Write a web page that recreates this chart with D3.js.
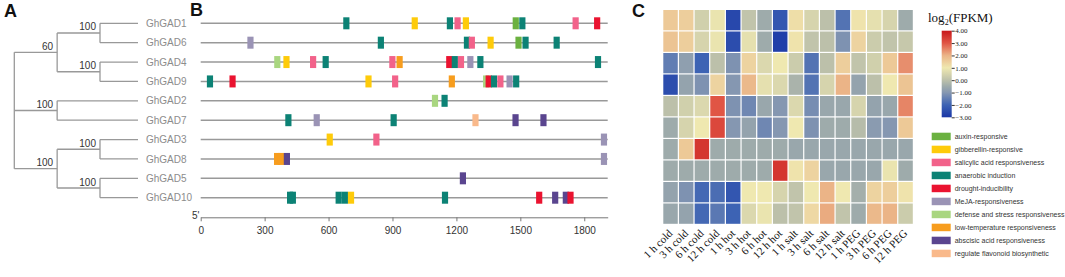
<!DOCTYPE html>
<html lang="en">
<head>
<meta charset="UTF-8">
<title>GhGAD phylogeny, cis-elements and expression</title>
<style>
  body { margin: 0; background: #fff; }
  svg { display: block; }
  .sans { font-family: Arial, "Liberation Sans", sans-serif; }
  .serif { font-family: "Times New Roman", "Liberation Serif", serif; }
</style>
</head>
<body>
<div id="chart"></div>
<script src="https://cdn.jsdelivr.net/npm/d3@7"></script>
<script>
const W = 1065, H = 277;

// ---- data ----
const genes = ["GhGAD1", "GhGAD6", "GhGAD4", "GhGAD9", "GhGAD2", "GhGAD7", "GhGAD3", "GhGAD8", "GhGAD5", "GhGAD10"];

// phylogeny with bootstrap values
const tree = {children: [
  {label: "60", children: [
    {label: "100", children: [{name: "GhGAD1"}, {name: "GhGAD6"}]},
    {label: "100", children: [{name: "GhGAD4"}, {name: "GhGAD9"}]}
  ]},
  {label: "100", children: [{name: "GhGAD2"}, {name: "GhGAD7"}]},
  {label: "100", children: [
    {label: "100", children: [{name: "GhGAD3"}, {name: "GhGAD8"}]},
    {label: "100", children: [{name: "GhGAD5"}, {name: "GhGAD10"}]}
  ]}
]};

const motifTypes = ["auxin-responsive", "gibberellin-responsive", "salicylic acid responsiveness",
  "anaerobic induction", "drought-inducibility", "MeJA-responsiveness",
  "defense and stress responsiveness", "low-temperature responsiveness",
  "abscisic acid responsiveness", "regulate flavonoid biosynthetic"];
const motifColors = ["#6bb140", "#fecb0a", "#f2628a", "#0c8275", "#ea1330", "#9a93b5",
  "#a9d680", "#f79d1e", "#5a458f", "#f9b98b"];

// promoter elements: [gene, type index, start position]
const motifs = [
  ["GhGAD1", 3, 669], ["GhGAD1", 1, 990], ["GhGAD1", 3, 1155], ["GhGAD1", 2, 1191], ["GhGAD1", 1, 1230],
  ["GhGAD1", 0, 1464], ["GhGAD1", 3, 1495], ["GhGAD1", 2, 1745], ["GhGAD1", 4, 1846],
  ["GhGAD6", 5, 219], ["GhGAD6", 3, 831], ["GhGAD6", 3, 1235], ["GhGAD6", 2, 1258], ["GhGAD6", 1, 1346],
  ["GhGAD6", 0, 1477], ["GhGAD6", 3, 1510], ["GhGAD6", 3, 1656],
  ["GhGAD4", 6, 345], ["GhGAD4", 1, 388], ["GhGAD4", 2, 513], ["GhGAD4", 3, 572], ["GhGAD4", 2, 885],
  ["GhGAD4", 7, 919], ["GhGAD4", 4, 1152], ["GhGAD4", 3, 1178], ["GhGAD4", 2, 1207], ["GhGAD4", 5, 1251],
  ["GhGAD4", 3, 1298], ["GhGAD4", 3, 1850],
  ["GhGAD9", 3, 29], ["GhGAD9", 4, 135], ["GhGAD9", 1, 773], ["GhGAD9", 2, 898], ["GhGAD9", 7, 1164],
  ["GhGAD9", 6, 1325], ["GhGAD9", 4, 1337], ["GhGAD9", 3, 1362], ["GhGAD9", 2, 1392], ["GhGAD9", 5, 1435],
  ["GhGAD9", 3, 1466],
  ["GhGAD2", 6, 1085], ["GhGAD2", 3, 1130],
  ["GhGAD7", 3, 397], ["GhGAD7", 5, 530], ["GhGAD7", 3, 891], ["GhGAD7", 9, 1275], ["GhGAD7", 8, 1463],
  ["GhGAD7", 8, 1594],
  ["GhGAD3", 1, 591], ["GhGAD3", 2, 810], ["GhGAD3", 5, 1878],
  ["GhGAD8", 7, 344], ["GhGAD8", 7, 362], ["GhGAD8", 8, 390], ["GhGAD8", 5, 1878],
  ["GhGAD5", 8, 1216],
  ["GhGAD10", 3, 405], ["GhGAD10", 3, 418], ["GhGAD10", 3, 633], ["GhGAD10", 3, 662], ["GhGAD10", 1, 691],
  ["GhGAD10", 3, 1132], ["GhGAD10", 4, 1574], ["GhGAD10", 8, 1649], ["GhGAD10", 8, 1699], ["GhGAD10", 4, 1721]
];
const promoterLength = 1910;
const positionTicks = [0, 300, 600, 900, 1200, 1500, 1800];

const conditions = ["1 h cold", "3 h cold", "6 h cold", "12 h cold", "1 h hot", "3 h hot", "6 h hot", "12 h hot",
  "1 h salt", "3 h salt", "6 h salt", "12 h salt", "1 h PEG", "3 h PEG", "6 h PEG", "12 h PEG"];
// log2(FPKM), one row per gene in the order of `genes`
const expression = [
  [1.6, 1.5, 0.4, 0.9, -2.6, 0.1, -0.5, -2.3, 1.2, 0.5, 0.0, -1.7, 1.1, 0.8, 0.5, -0.5],
  [1.7, 1.5, 0.5, 0.9, -2.5, 0.8, -0.5, -2.8, 1.1, 0.1, 0.0, -1.1, 1.4, 0.3, 0.1, 0.2],
  [-1.5, -0.8, -2.0, 0.0, -1.1, 1.4, 0.6, 1.0, 0.3, -1.7, 0.0, 1.5, 0.1, 0.4, 1.6, 2.4],
  [-2.5, -0.7, -1.1, 1.4, -1.0, 1.9, 0.8, 0.6, -0.3, -1.7, 0.5, 2.0, -0.7, 0.0, 1.0, 1.7],
  [0.0, 0.4, 0.6, 3.0, -1.1, -1.3, -0.6, -1.0, 0.6, -1.2, -0.6, -0.6, 0.5, -0.7, -0.6, 2.5],
  [-0.5, 0.5, 1.0, 3.2, -1.0, -0.7, -1.3, -1.0, 1.0, -1.1, -0.5, -0.5, -0.1, -0.9, -1.0, 1.6],
  [-0.5, 1.6, 3.5, -0.5, -0.5, -0.5, -0.5, -0.5, -0.6, -0.6, -0.6, -0.6, -0.6, -0.6, -0.6, -0.6],
  [-0.5, -0.5, -0.5, -0.5, -0.5, -0.5, -0.5, 3.5, 1.1, 1.4, -0.6, -0.6, -0.6, -0.6, 0.9, -0.5],
  [-0.7, -1.1, -1.9, -1.8, -2.3, 1.0, 1.0, 0.5, 0.1, 1.0, 2.0, 1.0, -0.4, 1.4, 1.5, 1.1],
  [-0.6, -0.7, -1.9, -1.6, -2.0, 0.6, 0.9, 0.0, 0.1, 1.3, 2.1, 0.1, -0.5, 1.9, 2.0, 0.3]
];
const colorTicks = [-3, -2, -1, 0, 1, 2, 3, 4];

// ---- svg ----
const svg = d3.select("#chart").append("svg")
  .attr("width", W).attr("height", H)
  .attr("class", "sans");

const panelLetter = (t, x, y) => svg.append("text")
  .attr("x", x).attr("y", y).attr("font-size", 18).attr("font-weight", "bold")
  .attr("fill", "#111").text(t);
panelLetter("A", 4, 17);
panelLetter("B", 190, 16);
panelLetter("C", 632, 17);

const y = d3.scalePoint().domain(genes).range([23.3, 197.7]);

// ---- A: tree ----
const root = d3.hierarchy(tree);
const depthX = d3.scaleLinear().domain([0, 2]).range([14.3, 100]);
const leafX = 138;
root.eachAfter(n => {
  if (!n.children) { n.x = leafX; n.y = y(n.data.name); }
  else {
    n.x = depthX(n.depth);
    n.y = (n.children[0].y + n.children[n.children.length - 1].y) / 2;
  }
});
const gA = svg.append("g").attr("fill", "none").attr("stroke", "#999").attr("stroke-width", 1.3);
root.descendants().filter(n => n.parent).forEach(n => {
  gA.append("line").attr("x1", n.parent.x).attr("x2", n.x).attr("y1", n.y).attr("y2", n.y);
});
root.descendants().filter(n => n.children).forEach(n => {
  gA.append("line").attr("x1", n.x).attr("x2", n.x)
    .attr("y1", n.children[0].y).attr("y2", n.children[n.children.length - 1].y);
});
svg.append("g").selectAll("text")
  .data(root.descendants().filter(n => n.data.label))
  .join("text")
  .attr("x", d => d.x - 4).attr("y", d => d.y - 2.5)
  .attr("text-anchor", "end").attr("font-size", 10).attr("fill", "#333")
  .text(d => d.data.label);
svg.append("g").selectAll("text")
  .data(root.leaves())
  .join("text")
  .attr("x", 146).attr("y", d => d.y + 3.6)
  .attr("font-size", 10).attr("fill", "#8c8c8c")
  .text(d => d.data.name);

// ---- B: promoter elements ----
const x = d3.scaleLinear().domain([0, promoterLength]).range([200.7, 607.7]);
const motifLen = 29;
svg.append("g").selectAll("line")
  .data(genes).join("line")
  .attr("x1", x(0)).attr("x2", x(promoterLength))
  .attr("y1", d => y(d)).attr("y2", d => y(d))
  .attr("stroke", "#999").attr("stroke-width", 1.4);
svg.append("g").selectAll("rect")
  .data(motifs).join("rect")
  .attr("x", d => x(d[2]))
  .attr("y", d => y(d[0]) - 6)
  .attr("width", d => x(d[2] + motifLen) - x(d[2]))
  .attr("height", 12)
  .attr("fill", d => motifColors[d[1]]);

const axB = svg.append("g").attr("transform", "translate(0,217.3)")
  .call(d3.axisBottom(x).tickValues(positionTicks).tickFormat(d3.format("d")).tickSize(4).tickSizeOuter(0));
axB.select(".domain").attr("stroke", "#777");
axB.selectAll(".tick line").attr("stroke", "#777");
axB.selectAll(".tick text").attr("font-size", 10).attr("fill", "#333")
  .attr("font-family", "Arial, 'Liberation Sans', sans-serif").attr("dy", "0.95em");
svg.append("text").attr("x", 192).attr("y", 218.5).attr("font-size", 10).attr("fill", "#333").text("5'");

// ---- C: heatmap ----
const color = d3.scaleLinear()
  .domain([-3, -2, -1, -0.5, 0, 1, 2, 3, 4])
  .range(["#1a36a6", "#3d63b4", "#8597b1", "#9eabab", "#bcc0aa", "#efe8b0", "#ebb487", "#e05545", "#c8161a"])
  .clamp(true);
const hx = d3.scaleBand().domain(conditions).range([663.3, 914]);
const hy = d3.scaleBand().domain(genes).range([10, 225]);

const cells = [];
genes.forEach((g, i) => conditions.forEach((c, j) => cells.push({g, c, v: expression[i][j]})));
svg.append("g").selectAll("rect")
  .data(cells).join("rect")
  .attr("x", d => hx(d.c)).attr("y", d => hy(d.g))
  .attr("width", hx.bandwidth() - 1.2).attr("height", hy.bandwidth() - 1.2)
  .attr("fill", d => color(d.v));

svg.append("g").selectAll("text")
  .data(conditions).join("text")
  .attr("class", "serif")
  .attr("transform", d => `translate(${hx(d) + hx.bandwidth() / 2 + 2},234) rotate(-45)`)
  .attr("text-anchor", "end").attr("font-size", 11).attr("fill", "#111")
  .text(d => d);

// colour bar
const ly = d3.scaleLinear().domain([-3, 4]).range([117.3, 30.7]);
const grad = svg.append("defs").append("linearGradient")
  .attr("id", "grad").attr("x1", 0).attr("x2", 0).attr("y1", 1).attr("y2", 0);
grad.selectAll("stop").data(d3.range(-3, 4.01, 0.25)).join("stop")
  .attr("offset", d => (d + 3) / 7).attr("stop-color", d => color(d));
svg.append("rect").attr("x", 941.7).attr("y", ly(4)).attr("width", 10)
  .attr("height", ly(-3) - ly(4)).attr("fill", "url(#grad)");
const axL = svg.append("g").attr("transform", "translate(951.7,0)")
  .call(d3.axisRight(ly).tickValues(colorTicks).tickFormat(d3.format(".2f")).tickSize(3));
axL.select(".domain").remove();
axL.selectAll(".tick line").attr("stroke", "#333");
axL.selectAll(".tick text").attr("x", 3.5).attr("font-size", 7).attr("fill", "#222")
  .attr("font-family", "'Times New Roman', 'Liberation Serif', serif");

const title = svg.append("text").attr("class", "serif").attr("x", 928).attr("y", 21.7)
  .attr("font-size", 13).attr("fill", "#111");
title.append("tspan").text("log");
title.append("tspan").attr("font-size", 8).attr("dy", 3).text("2");
title.append("tspan").attr("dy", -3).text("(FPKM)");

// motif legend
const lg = svg.append("g").selectAll("g")
  .data(motifTypes).join("g")
  .attr("transform", (d, i) => `translate(931.7,${132.7 + i * 13})`);
lg.append("rect").attr("width", 19).attr("height", 7.5).attr("fill", (d, i) => motifColors[i]);
lg.append("text").attr("x", 23).attr("y", 6.3).attr("font-size", 7).attr("fill", "#333").text(d => d);
</script>
</body>
</html>
